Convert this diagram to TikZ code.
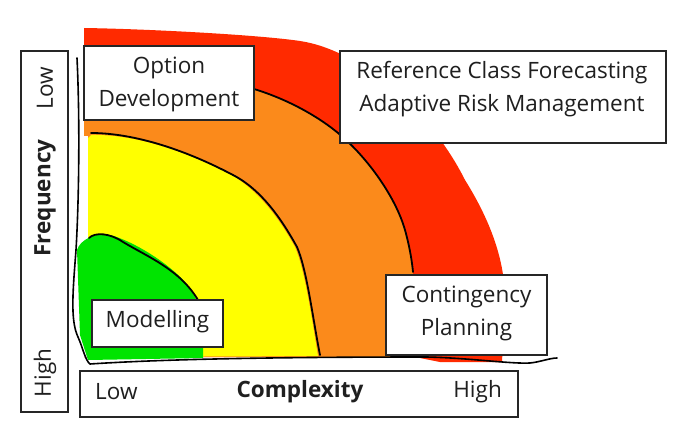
\documentclass[tikz,border=0pt]{standalone}
\usepackage{fontspec}
\setmainfont{Open Sans}
\definecolor{cred}{HTML}{FF2A00}
\definecolor{corange}{HTML}{FB8A1B}
\definecolor{cyellow}{HTML}{FFFF00}
\definecolor{cgreen}{HTML}{00E400}
\definecolor{cbox}{HTML}{262626}
\begin{document}
\begin{tikzpicture}[x=1pt,y=-1pt,
  box/.style={draw=cbox,line width=1.2pt,fill=white,inner sep=0pt},
  lbl/.style={font=\fontsize{22.5}{33}\selectfont,align=center,text=black!88,inner sep=0pt},
  blbl/.style={lbl,font=\fontsize{22.5}{33}\selectfont\bfseries},
  curve/.style={draw=black,line width=1.8pt,line cap=round,line join=round}]
\useasboundingbox (0,0) rectangle (684,441);
% red band
\fill[cred] (84,28) .. controls (150,29) and (260,35) .. (300,41)
  .. controls (360,50) and (430,110) .. (465,180)
  .. controls (490,220) and (505,260) .. (505,300)
  -- (502,362) -- (440,362) -- (415,357) -- (84,357) -- cycle;
% orange band
\fill[corange] (84,110) -- (254,89) .. controls (290,100) and (320,118) .. (338,133)
  .. controls (365,155) and (395,195) .. (405,230)
  .. controls (412,255) and (416,290) .. (418,357) -- (84,357) -- cycle;
% gap left of the yellow zone
\fill[white] (79,136) rectangle (88,357);
% yellow
\fill[cyellow] (88,138) -- (91,135) .. controls (130,134) and (180,148) .. (233,176)
  .. controls (260,192) and (280,220) .. (295,247)
  .. controls (305,270) and (312,320) .. (318,356) -- (88,357) -- cycle;
% green
\fill[cgreen] (77,250) .. controls (80,240) and (95,232) .. (110,235)
  .. controls (130,240) and (165,260) .. (185,282)
  .. controls (196,296) and (203,310) .. (203,330) -- (203,358) -- (88,360) -- (80,335) -- cycle;
% boundary curves
\coordinate (b1) at (254,89);
\coordinate (b2) at (413,272);
\draw[curve] (b1) .. controls (290,100) and (320,118) .. (338,133)
  .. controls (365,155) and (395,195) .. (405,230) .. controls (410,248) and (412,262) .. (b2);
\coordinate (y1) at (91,133);
\coordinate (y2) at (320,355);
\draw[curve] (y1) .. controls (130,133) and (180,147) .. (233,175)
  .. controls (262,190) and (282,220) .. (297,247)
  .. controls (307,270) and (313,320) .. (y2);
\coordinate (g1) at (89,238);
\coordinate (g2) at (198,300);
\draw[curve] (g1) .. controls (95,232) and (110,233) .. (123,242)
  .. controls (150,258) and (180,270) .. (g2);
% axes
\coordinate (a1) at (77,58);
\coordinate (a2) at (557,358);
\draw[curve,line width=1.6pt] (a1) .. controls (80,120) and (79,200) .. (76,250)
  .. controls (73,290) and (70,320) .. (78,337)
  .. controls (83,348) and (85,360) .. (90,364)
  .. controls (150,360) and (250,357) .. (427,357)
  .. controls (470,358) and (510,364) .. (530,363)
  .. controls (540,362) and (550,358) .. (a2);
% boxes
\node[box,minimum width=170pt,minimum height=74pt] (opt) at (169,83) {};
\node[lbl] at (169,84) {Option\\Development};
\node[box,minimum width=326pt,minimum height=92pt] (ref) at (503,97) {};
\node[lbl] at (502,89) {Reference Class Forecasting\\Adaptive Risk Management};
\node[box,minimum width=131pt,minimum height=47pt] (mod) at (157.5,323.5) {};
\node[lbl] at (157.5,322) {Modelling};
\node[box,minimum width=161pt,minimum height=80pt] (con) at (466.5,315) {};
\node[lbl] at (466.5,313) {Contingency\\Planning};
\node[box,minimum width=438pt,minimum height=46pt] (cx) at (299,394) {};
\node[lbl,anchor=west] at (95,392) {Low};
\node[blbl] at (300,392) {Complexity};
\node[lbl,anchor=east] at (502,392) {High};
\node[box,minimum width=47pt,minimum height=361pt] (fq) at (44.5,231.5) {};
\node[lbl,rotate=90] at (45,88) {Low};
\node[blbl,rotate=90] at (45,198) {Frequency};
\node[lbl,rotate=90] at (45,373) {High};
\end{tikzpicture}
\end{document}
